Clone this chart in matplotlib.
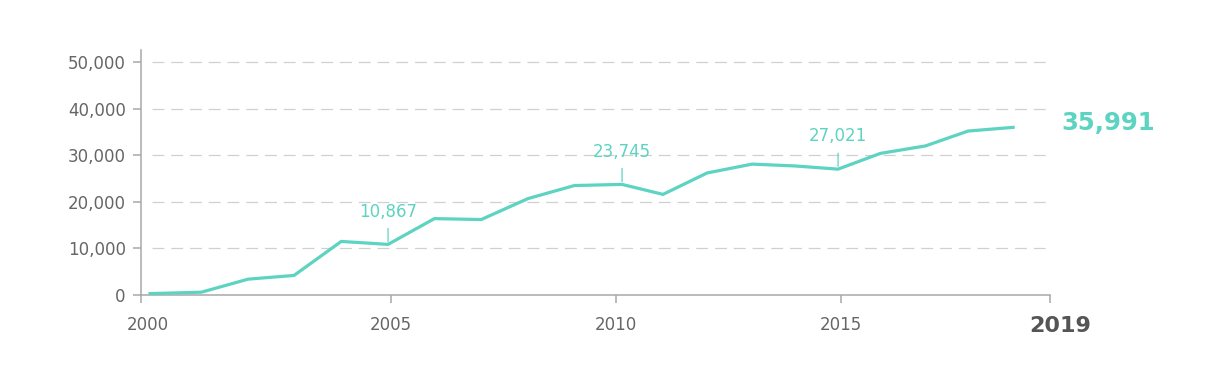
import matplotlib
matplotlib.use("Agg")
import matplotlib.pyplot as plt
import matplotlib.transforms as mtransforms
from matplotlib.ticker import FuncFormatter

plt.rcParams['font.family'] = ['DejaVu Sans']

# data (x = position in decimal years)
dates = [1999.64, 2000.78, 2001.82, 2002.84, 2003.89, 2004.93, 2005.96, 2007.0,
         2008.04, 2009.07, 2010.13, 2011.04, 2012.02, 2013.02, 2013.98, 2014.93,
         2015.87, 2016.87, 2017.82, 2018.82]
values = [300, 600, 3400, 4200, 11500, 10867, 16400, 16200, 20700, 23500,
          23745, 21600, 26200, 28100, 27700, 27021, 30400, 32000, 35200, 35991]
labelled_idx = [5, 10, 15]
y_ticks = [0, 10000, 20000, 30000, 40000, 50000]
x_ticks = [2005, 2010, 2015]
x_tick_labels = ['2000', '2005', '2010', '2015', '2019']

teal = '#5dd3c1'
grey_text = '#666666'
axis_grey = '#a8a8a8'

fig = plt.figure(figsize=(12.14, 3.72), dpi=100)
ax = fig.add_axes([141 / 1214, 77 / 372, 909 / 1214, 245 / 372])

ax.plot(dates, values, color=teal, lw=2.3, solid_joinstyle='miter', zorder=3)

x_left, x_right = 1999.44, 2019.64
ax.set_xlim(x_left, x_right)
ax.set_ylim(0, 52600)

ax.set_yticks(y_ticks)
ax.yaxis.set_major_formatter(FuncFormatter(lambda v, p: f'{int(v):,}'))
ax.set_xticks([x_left] + x_ticks + [x_right])
ax.set_xticklabels(x_tick_labels)

ax.tick_params(axis='both', colors=axis_grey, labelcolor=grey_text, labelsize=12,
               length=6, width=1.1)
ax.tick_params(axis='x', pad=9)
ax.tick_params(axis='y', pad=5)

xlabels = ax.get_xticklabels()
# end labels sit a little right of their ticks in the original
xlabels[0].set_transform(xlabels[0].get_transform() +
                         mtransforms.ScaledTranslation(7 / 100, 0, fig.dpi_scale_trans))
last = xlabels[-1]
last.set_fontweight('bold')
last.set_fontsize(16)
last.set_color('#555555')
last.set_transform(last.get_transform() +
                   mtransforms.ScaledTranslation(10 / 100, 0, fig.dpi_scale_trans))

for s in ['top', 'right']:
    ax.spines[s].set_visible(False)
for s in ['left', 'bottom']:
    ax.spines[s].set_color(axis_grey)
    ax.spines[s].set_linewidth(1.1)

for yv in y_ticks[1:]:
    ax.axhline(yv, xmin=0.012, color='#d0d0d0', lw=0.9, dashes=(9.5, 5.5), zorder=1)

# value call-outs with short leader lines
for i in labelled_idx:
    ax.annotate(f'{values[i]:,}', xy=(dates[i], values[i]), xytext=(0, 20),
                textcoords='offset points', ha='center', va='baseline',
                color=teal, fontsize=12)
    ax.annotate('', xy=(dates[i], values[i]), xytext=(0, 11.5), textcoords='offset points',
                arrowprops=dict(arrowstyle='-', color=teal, lw=0.9, shrinkA=0, shrinkB=2))

ax.annotate(f'{values[-1]:,}', xy=(dates[-1], values[-1]), xytext=(35, 3),
            textcoords='offset points', ha='left', va='center',
            color=teal, fontsize=17.5, fontweight='bold')

fig.savefig('out.png', dpi=100)
